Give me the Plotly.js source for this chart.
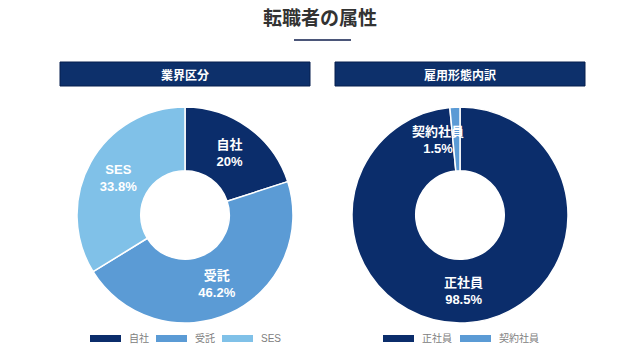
<!DOCTYPE html>
<html><head><meta charset="utf-8">
<script src="https://cdn.plot.ly/plotly-3.0.1.min.js"></script>
<style>html,body{margin:0;padding:0;background:#fff}#chart{width:640px;height:359px}</style>
</head><body><div id="chart"></div>
<script>
const mainTitle = '転職者の属性';
const panelTitles = ['業界区分', '雇用形態内訳'];
const industryLabels = ['自社', '受託', 'SES'];
const industryValues = [20, 46.2, 33.8];
const industryColors = ['#0b2d6b', '#5b9bd5', '#80c1e8'];
const employLabels = ['正社員', '契約社員'];
const employValues = [98.5, 1.5];
const employColors = ['#0b2d6b', '#5b9bd5'];

const W = 640, H = 359;
const px = x => x / W;
const py = y => 1 - y / H;
const JP = '"Noto Sans CJK JP", "Noto Sans", sans-serif';
const MIX = '"Liberation Sans", Arial, "Noto Sans CJK JP", sans-serif';

const pieCommon = {
  type: 'pie', hole: 0.41, sort: false, direction: 'clockwise', rotation: 0,
  texttemplate: '%{label}<br>%{value}%',
  insidetextorientation: 'horizontal',
  insidetextfont: {family: MIX, size: 13, color: '#ffffff', weight: 'bold'},
  showlegend: false, hoverinfo: 'label+percent'
};

const data = [
  Object.assign({}, pieCommon, {
    labels: industryLabels, values: industryValues,
    marker: {colors: industryColors, line: {color: '#ffffff', width: 1.5}},
    textposition: 'inside',
    domain: {x: [px(77), px(293)], y: [py(323), py(107)]}
  }),
  Object.assign({}, pieCommon, {
    labels: employLabels, values: employValues,
    marker: {colors: employColors, line: {color: '#ffffff', width: 1.5}},
    textposition: ['inside', 'none'],
    domain: {x: [px(352), px(568)], y: [py(323), py(107)]}
  })
];

const shapes = [];
const annotations = [];

shapes.push({type: 'line', xref: 'paper', yref: 'paper', x0: px(294), x1: px(351), y0: py(40), y1: py(40),
  line: {color: '#4b5679', width: 2}});

const bars = [[60, 310], [335, 585]];
bars.forEach((b, i) => {
  shapes.push({type: 'rect', xref: 'paper', yref: 'paper', x0: px(b[0]), x1: px(b[1]), y0: py(86), y1: py(62),
    fillcolor: '#0d306b', line: {color: '#071f4f', width: 1}});
  annotations.push({xref: 'paper', yref: 'paper', x: px((b[0] + b[1]) / 2), y: py(74), text: '<b>' + panelTitles[i] + '</b>',
    showarrow: false, xanchor: 'center', yanchor: 'middle', font: {family: JP, size: 12, color: '#ffffff'}});
});

annotations.push({xref: 'paper', yref: 'paper', x: px(438), y: py(140),
  text: '<b>' + employLabels[1] + '<br>' + employValues[1] + '%</b>', showarrow: false,
  xanchor: 'center', yanchor: 'middle', font: {family: MIX, size: 13, color: '#ffffff'}});

function legend(labels, colors, xs) {
  labels.forEach((l, i) => {
    shapes.push({type: 'rect', xref: 'paper', yref: 'paper', x0: px(xs[i]), x1: px(xs[i] + 31), y0: py(342), y1: py(335),
      fillcolor: colors[i], line: {color: '#ffffff', width: 0}});
    annotations.push({xref: 'paper', yref: 'paper', x: px(xs[i] + 37), y: py(338), text: l, showarrow: false,
      xanchor: 'left', yanchor: 'middle', font: {family: MIX, size: 10, color: '#808080'}});
  });
}
legend(industryLabels, industryColors, [90, 156, 222]);
legend(employLabels, employColors, [383, 460]);

const layout = {
  width: W, height: H, margin: {l: 0, r: 0, t: 0, b: 0},
  paper_bgcolor: '#ffffff', plot_bgcolor: '#ffffff',
  title: {text: mainTitle, x: 0.5, xanchor: 'center', y: py(18), yanchor: 'middle',
    font: {family: JP, size: 19, color: '#333333', weight: 'bold'}},
  shapes: shapes, annotations: annotations
};
Plotly.newPlot('chart', data, layout, {displayModeBar: false, staticPlot: true});
</script></body></html>
